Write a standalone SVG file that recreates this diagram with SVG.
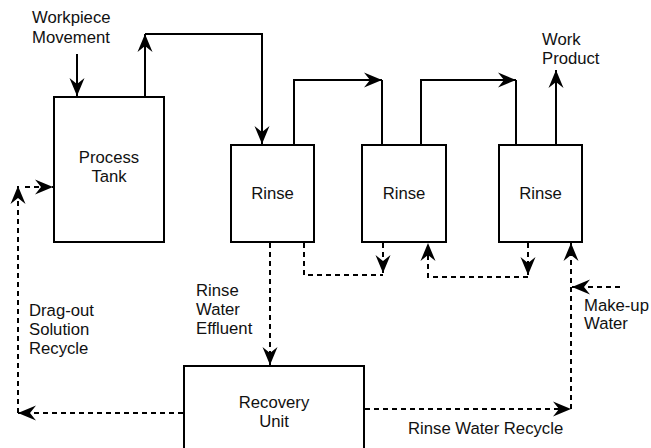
<svg xmlns="http://www.w3.org/2000/svg" width="651" height="448" viewBox="0 0 651 448">
<style>
.box{fill:#fff;stroke:#000;stroke-width:2}
.ln{fill:none;stroke:#000;stroke-width:2}
.ds{fill:none;stroke:#000;stroke-width:2;stroke-dasharray:5,4}
text{font-family:"Liberation Sans",Arial,sans-serif;font-size:16.7px;fill:#111}
.c{text-anchor:middle}
</style>
<defs>
<marker id="ah" viewBox="-19 -9 20 18" refX="0" refY="0" markerWidth="20" markerHeight="18" markerUnits="userSpaceOnUse" orient="auto">
<path d="M0,0 L-18,-7.5 L-12,0 L-18,7.5 Z" fill="#000"/>
</marker>
</defs>
<rect width="651" height="448" fill="#fff"/>
<g id="connectors">
<path class="ln" d="M77,54 V96" marker-end="url(#ah)"/>
<path class="ln" d="M145,97 V34" marker-end="url(#ah)"/>
<path class="ln" d="M145,34 H262 V144" marker-end="url(#ah)"/>
<path class="ln" d="M294,145 V80 H382" marker-end="url(#ah)"/>
<path class="ln" d="M382,80 V145"/>
<path class="ln" d="M421,145 V80 H516" marker-end="url(#ah)"/>
<path class="ln" d="M516,80 V145"/>
<path class="ln" d="M556,145 V70" marker-end="url(#ah)"/>
<path class="ds" d="M270,243 V365" marker-end="url(#ah)"/>
<path class="ds" d="M304,243 V275 H383"/>
<path class="ds" d="M383,243 V273" marker-end="url(#ah)"/>
<path class="ds" d="M528,277 H428 V243" marker-end="url(#ah)"/>
<path class="ds" d="M528,243 V275" marker-end="url(#ah)"/>
<path class="ds" d="M571,409 V243" marker-end="url(#ah)"/>
<path class="ds" d="M620,287 H572" marker-end="url(#ah)"/>
<path class="ds" d="M365,409 H571" marker-end="url(#ah)"/>
<path class="ds" d="M183,413 H18" marker-end="url(#ah)"/>
<path class="ds" d="M18,413 V186" marker-end="url(#ah)"/>
<path class="ds" d="M25,187 H53" marker-end="url(#ah)"/>
</g>
<g id="process-tank">
<rect class="box" x="54" y="97" width="110" height="145"/>
<text class="c" x="109" y="163">Process</text>
<text class="c" x="109" y="182">Tank</text>
</g>
<g id="rinse1">
<rect class="box" x="231" y="145" width="83" height="97"/>
<text class="c" x="272.5" y="199">Rinse</text>
</g>
<g id="rinse2">
<rect class="box" x="362" y="145" width="84" height="97"/>
<text class="c" x="404" y="199">Rinse</text>
</g>
<g id="rinse3">
<rect class="box" x="499" y="145" width="83" height="97"/>
<text class="c" x="540.5" y="199">Rinse</text>
</g>
<g id="recovery-unit">
<rect class="box" x="184" y="366" width="180" height="100"/>
<text class="c" x="274" y="408">Recovery</text>
<text class="c" x="274" y="427">Unit</text>
</g>
<g id="labels">
<text x="32" y="23">Workpiece</text>
<text x="32" y="43">Movement</text>
<text x="542" y="45">Work</text>
<text x="542" y="64">Product</text>
<text x="196" y="296">Rinse</text>
<text x="196" y="315">Water</text>
<text x="196" y="334">Effluent</text>
<text x="29" y="316">Drag-out</text>
<text x="29" y="335">Solution</text>
<text x="29" y="354">Recycle</text>
<text x="584" y="311">Make-up</text>
<text x="584" y="329">Water</text>
<text x="408" y="434">Rinse Water Recycle</text>
</g>
</svg>
